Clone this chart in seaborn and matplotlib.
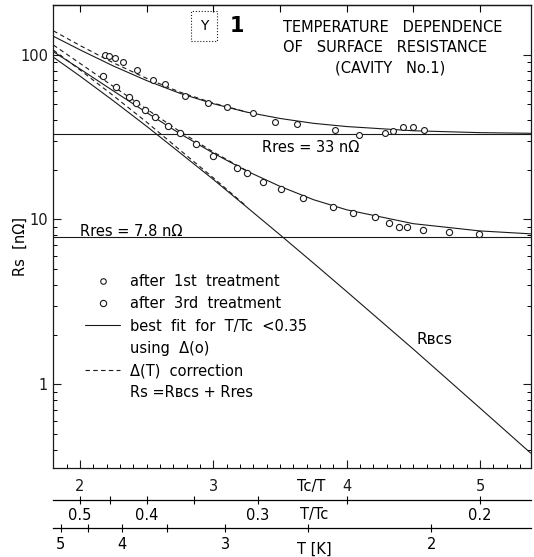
import numpy as np
import pandas as pd
import matplotlib
matplotlib.use("Agg")
import matplotlib.pyplot as plt
import seaborn as sns
from matplotlib.ticker import FixedLocator, NullFormatter, FixedFormatter, LogLocator
from matplotlib.lines import Line2D

# ---------------- data ----------------
tc_t_1st = [2.19, 2.22, 2.26, 2.32, 2.43, 2.55, 2.64, 2.79, 2.96, 3.10, 3.30,
            3.46, 3.63, 3.91, 4.09, 4.29, 4.35, 4.42, 4.50, 4.58]
rs_1st = [100, 98.6, 95.9, 90.7, 81.1, 70.5, 66.7, 56.3, 51.1, 48.3, 44.5,
          39.2, 38.1, 35.0, 32.6, 33.6, 34.5, 36.5, 36.5, 35.0]

tc_t_3rd = [2.17, 2.27, 2.37, 2.42, 2.49, 2.56, 2.66, 2.75, 2.87, 3.00, 3.18, 3.25,
            3.37, 3.51, 3.67, 3.90, 4.05, 4.21, 4.32, 4.39, 4.45, 4.57, 4.77, 4.99]
rs_3rd = [74.5, 63.8, 55.6, 51.1, 46.3, 42.0, 37.0, 33.6, 28.8, 24.3, 20.6, 19.2,
          16.9, 15.3, 13.5, 11.9, 10.96, 10.4, 9.5, 9.0, 9.0, 8.6, 8.4, 8.2]

fit_x = [1.8, 2.0, 2.25, 2.5, 2.75, 3.0, 3.25, 3.5, 3.75, 4.0, 4.5, 5.0, 5.38]
fit_1st = [129.8, 107.3, 85.6, 69.8, 58.4, 50.5, 44.9, 41.1, 38.4, 36.7, 34.6, 33.7, 33.4]
fit_3rd = [104.6, 82.1, 60.4, 44.6, 33.2, 25.3, 19.7, 15.9, 13.2, 11.45, 9.43, 8.52, 8.18]
r_bcs = [96.8, 74.3, 52.6, 36.8, 25.4, 17.5, 11.9, 8.07, 5.44, 3.65, 1.63, 0.715, 0.381]

corr_x = [1.8, 2.0, 2.25, 2.5, 2.75, 3.0, 3.25]
corr_1st = [140, 114, 89.5, 72, 59.4, 50.9, 45.0]
corr_3rd = [114.8, 88.8, 64.3, 46.8, 34.2, 25.7, 19.8]
corr_bcs = [107, 81, 56.5, 39, 26.4, 17.9, 12.0]

rres_1st = 33
rres_3rd = 7.8
Tc = 9.27

x_ticks = [2, 3, 4, 5]
y_ticks = [1, 10, 100]
y_ticklabels = ["1", "10", "100"]
t_tc_major = [0.5, 0.4, 0.3, 0.2]
t_tc_minor = [0.45, 0.35, 0.25]
t_major = [5, 4, 3, 2]
t_minor = [4.5, 3.5, 2.5]

# ---------------- figure ----------------
sns.set_theme(style="ticks")
plt.rcParams['font.family'] = ['DejaVu Sans', 'Noto Sans']
plt.rcParams['font.size'] = 10
plt.rcParams['axes.linewidth'] = 0.9
for k in ["text.color", "axes.labelcolor", "xtick.color", "ytick.color",
          "axes.edgecolor", "xtick.labelcolor", "ytick.labelcolor"]:
    plt.rcParams[k] = "black"

W, H = 534, 557
fig = plt.figure(figsize=(W / 100, H / 100), dpi=100)
ax = fig.add_axes([53 / W, 1 - 468 / H, (531 - 53) / W, (468 - 5) / H])

def px(x, y):
    return x / W, 1 - y / H

lw = 0.8
df_fit = pd.DataFrame({"x": fit_x, "a": fit_1st, "b": fit_3rd, "c": r_bcs})
df_corr = pd.DataFrame({"x": corr_x, "a": corr_1st, "b": corr_3rd, "c": corr_bcs})
for col in ["a", "b", "c"]:
    sns.lineplot(data=df_fit, x="x", y=col, ax=ax, color="k", lw=lw,
                 estimator=None, sort=False)
    sns.lineplot(data=df_corr, x="x", y=col, ax=ax, color="k", lw=lw,
                 estimator=None, sort=False, dashes=False, linestyle=(0, (4, 3)))

ax.axhline(rres_1st, color="k", lw=lw)
ax.axhline(rres_3rd, color="k", lw=lw)

sns.scatterplot(x=tc_t_1st, y=rs_1st, ax=ax, marker="o", s=18, facecolor="white",
                edgecolor="k", linewidth=0.8, zorder=5)
sns.scatterplot(x=tc_t_3rd, y=rs_3rd, ax=ax, marker="o", s=20, facecolor="white",
                edgecolor="k", linewidth=0.8, zorder=5)

ax.set_yscale("log")
ax.set_xlim(1.797, 5.383)
ax.set_ylim(0.309, 201)
ax.set_xlabel("")
ax.set_ylabel("")

ax.xaxis.set_major_locator(FixedLocator(x_ticks))
ax.xaxis.set_minor_locator(FixedLocator(np.round(np.arange(1.8, 5.39, 0.1), 2)))
ax.yaxis.set_major_locator(FixedLocator(y_ticks))
ax.yaxis.set_major_formatter(FixedFormatter(y_ticklabels))
ax.yaxis.set_minor_locator(LogLocator(base=10, subs=np.arange(2, 10)))
ax.yaxis.set_minor_formatter(NullFormatter())
ax.tick_params(axis="both", which="major", direction="in", length=6, width=0.8,
               labelsize=10.5, colors="k")
ax.tick_params(axis="both", which="minor", direction="in", length=3, width=0.7)
ax.tick_params(axis="y", which="both", right=True)
ax.tick_params(axis="x", which="major", pad=8)
for s in ax.spines.values():
    s.set_visible(True)
    s.set_color("k")

# top ticks every 0.5
top = ax.secondary_xaxis("top")
top.xaxis.set_major_locator(FixedLocator(np.arange(2.0, 5.01, 0.5)))
top.xaxis.set_major_formatter(NullFormatter())
top.tick_params(direction="in", length=5, width=0.8)

# T/Tc axis
def inv(x):
    x = np.asarray(x, dtype=float)
    with np.errstate(divide="ignore"):
        return 1.0 / x

sec1 = ax.secondary_xaxis(-0.069, functions=(inv, inv))
sec1.xaxis.set_major_locator(FixedLocator(t_tc_major))
sec1.xaxis.set_major_formatter(FixedFormatter([str(v) for v in t_tc_major]))
sec1.xaxis.set_minor_locator(FixedLocator(t_tc_minor))
sec1.tick_params(which="both", direction="inout", length=6, width=0.8, pad=3,
                 labelsize=10.5)

def to_T(x):
    x = np.asarray(x, dtype=float)
    with np.errstate(divide="ignore"):
        return Tc / x

sec2 = ax.secondary_xaxis(-0.130, functions=(to_T, to_T))
sec2.xaxis.set_major_locator(FixedLocator(t_major))
sec2.xaxis.set_major_formatter(FixedFormatter([str(v) for v in t_major]))
sec2.xaxis.set_minor_locator(FixedLocator(t_minor))
sec2.tick_params(which="both", direction="inout", length=6, width=0.8, pad=3,
                 labelsize=10.5)

# axis titles
fig.text(*px(311, 486), "Tc/T", ha="center", va="center", fontsize=10.5)
fig.text(*px(314, 515), "T/Tc", ha="center", va="center", fontsize=10.5)
fig.text(*px(314, 549), "T [K]", ha="center", va="center", fontsize=10.5)
fig.text(*px(20, 247), "Rs  [n\u03a9]", rotation=90, ha="center", va="center",
         fontsize=10.5)

# title block
fig.text(*px(283, 28), "TEMPERATURE   DEPENDENCE", ha="left", va="center",
         fontsize=10.5)
fig.text(*px(283, 47), "OF   SURFACE   RESISTANCE", ha="left", va="center",
         fontsize=10.5)
fig.text(*px(390, 68), "(CAVITY   No.1)", ha="center", va="center", fontsize=10.5)
fig.text(*px(204, 26), "Y", ha="center", va="center", fontsize=10,
         bbox=dict(boxstyle="square,pad=0.6", fc="none", ec="k", lw=0.8,
                   ls=":"))
fig.text(*px(237, 26), "1", ha="center", va="center", fontsize=15,
         fontweight="bold")

# annotations
fig.text(*px(262, 148), "Rres = 33 n\u03a9", ha="left", va="center", fontsize=10.5)
fig.text(*px(80, 231), "Rres = 7.8 n\u03a9", ha="left", va="center", fontsize=10.5)
fig.text(*px(417, 340), "R\u0299\u1d04\ua731", ha="left", va="center",
         fontsize=11)

# legend
handles = [
    Line2D([], [], ls="none", marker="o", ms=4, mfc="white", mec="k", mew=0.8),
    Line2D([], [], ls="none", marker="o", ms=4.5, mfc="white", mec="k", mew=0.8),
    Line2D([], [], color="k", lw=lw),
    Line2D([], [], ls="none"),
    Line2D([], [], color="k", lw=lw, ls=(0, (4, 3))),
    Line2D([], [], ls="none"),
]
labels = [
    "after  1st  treatment",
    "after  3rd  treatment",
    "best  fit  for  T/Tc  <0.35",
    "using  \u0394(o)",
    "\u0394(T)  correction",
    "Rs =R\u0299\u1d04\ua731 + Rres",
]
leg = ax.legend(handles, labels, loc="upper left",
                bbox_to_anchor=px(85, 274), bbox_transform=fig.transFigure,
                frameon=False, fontsize=10.5, handlelength=2.4,
                handletextpad=0.7, labelspacing=0.5, borderpad=0,
                borderaxespad=0)

fig.savefig("out.png", dpi=100)
